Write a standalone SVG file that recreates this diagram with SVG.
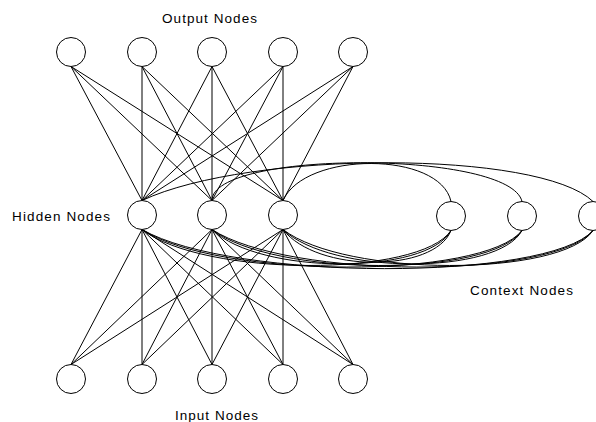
<svg xmlns="http://www.w3.org/2000/svg" width="596" height="422" viewBox="0 0 596 422">
<style>
.n{fill:#fff;stroke:#000;stroke-width:1}
.e{fill:none;stroke:#000;stroke-width:1}
.t{font-family:"Liberation Sans",Arial,sans-serif;font-size:13.5px;fill:#000}
</style>
<rect width="596" height="422" fill="#fff"/>
<g id="connectors" class="e">
<!-- output to hidden -->
<path d="M71,66.5L142,200.5M71,66.5L212,200.5M71,66.5L283,200.5"/>
<path d="M142,66.5L142,200.5M142,66.5L212,200.5M142,66.5L283,200.5"/>
<path d="M212,66.5L142,200.5M212,66.5L212,200.5M212,66.5L283,200.5"/>
<path d="M283,66.5L142,200.5M283,66.5L212,200.5M283,66.5L283,200.5"/>
<path d="M353,66.5L142,200.5M353,66.5L212,200.5M353,66.5L283,200.5"/>
<!-- input to hidden -->
<path d="M71,364.5L142,229.5M71,364.5L212,229.5M71,364.5L283,229.5"/>
<path d="M142,364.5L142,229.5M142,364.5L212,229.5M142,364.5L283,229.5"/>
<path d="M212,364.5L142,229.5M212,364.5L212,229.5M212,364.5L283,229.5"/>
<path d="M283,364.5L142,229.5M283,364.5L212,229.5M283,364.5L283,229.5"/>
<path d="M353,364.5L142,229.5M353,364.5L212,229.5M353,364.5L283,229.5"/>
<!-- hidden to context (upper arcs) -->
<path d="M142,200.5C250,150 540,150 593,201.5"/>
<path d="M212,200.5C212,150 510,150 522,201.5"/>
<path d="M283,200.5C305,151 440,151 451,201.5"/>
<!-- context to hidden (lower arcs) -->
<path d="M142,229.5C203.8,277.3 420.1,277.3 451,230.5"/>
<path d="M142,229.5C218,279.4 484,279.4 522,230.5"/>
<path d="M142,229.5C232.2,281.5 547.9,281.5 593,230.5"/>
<path d="M212,229.5C259.8,275.2 427.1,275.2 451,230.5"/>
<path d="M212,229.5C274,277.3 491,277.3 522,230.5"/>
<path d="M212,229.5C288.2,279.4 554.9,279.4 593,230.5"/>
<path d="M283,229.5C316.6,273 434.2,273 451,230.5"/>
<path d="M283,229.5C330.8,275.2 498.1,275.2 522,230.5"/>
<path d="M283,229.5C345,277.3 562,277.3 593,230.5"/>
</g>
<g id="out1"><circle class="n" cx="71" cy="52" r="14.5"/></g>
<g id="out2"><circle class="n" cx="142" cy="52" r="14.5"/></g>
<g id="out3"><circle class="n" cx="212" cy="52" r="14.5"/></g>
<g id="out4"><circle class="n" cx="283" cy="52" r="14.5"/></g>
<g id="out5"><circle class="n" cx="353" cy="52" r="14.5"/></g>
<g id="hid1"><circle class="n" cx="142" cy="215" r="14.5"/></g>
<g id="hid2"><circle class="n" cx="212" cy="215" r="14.5"/></g>
<g id="hid3"><circle class="n" cx="283" cy="215" r="14.5"/></g>
<g id="ctx1"><circle class="n" cx="451" cy="216" r="14.5"/></g>
<g id="ctx2"><circle class="n" cx="522" cy="216" r="14.5"/></g>
<g id="ctx3"><circle class="n" cx="593" cy="216" r="14.5"/></g>
<g id="in1"><circle class="n" cx="71" cy="379" r="14.5"/></g>
<g id="in2"><circle class="n" cx="142" cy="379" r="14.5"/></g>
<g id="in3"><circle class="n" cx="212" cy="379" r="14.5"/></g>
<g id="in4"><circle class="n" cx="283" cy="379" r="14.5"/></g>
<g id="in5"><circle class="n" cx="353" cy="379" r="14.5"/></g>
<g id="labels">
<text class="t" x="162" y="23" textLength="95" lengthAdjust="spacing">Output Nodes</text>
<text class="t" x="12" y="221" textLength="98" lengthAdjust="spacing">Hidden Nodes</text>
<text class="t" x="470" y="295" textLength="103" lengthAdjust="spacing">Context Nodes</text>
<text class="t" x="175" y="420" textLength="83" lengthAdjust="spacing">Input Nodes</text>
</g>
</svg>
